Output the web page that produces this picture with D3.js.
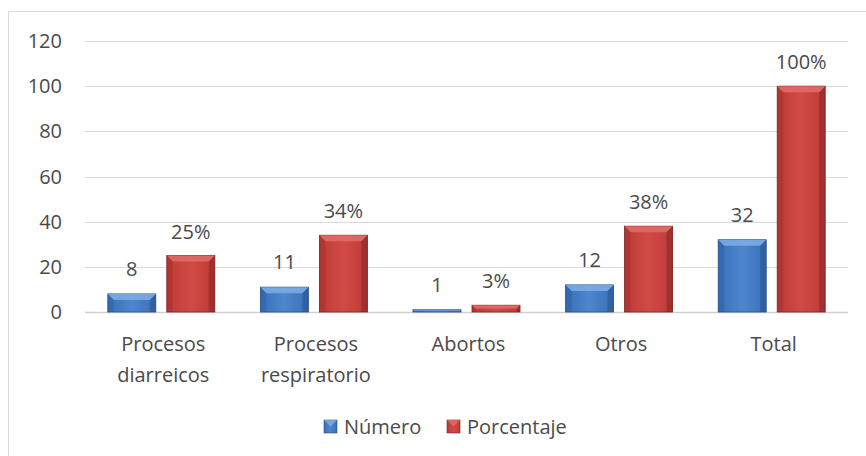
<!DOCTYPE html>
<html>
<head>
<meta charset="utf-8">
<script src="https://cdn.jsdelivr.net/npm/d3@7"></script>
<style>
  body { margin: 0; background: #fff; }
  svg text { font-family: "Open Sans", Lato, sans-serif; fill: #4a4a4a; }
</style>
</head>
<body>
<svg id="chart" width="866" height="456"></svg>
<script>
// data
var categories = [["Procesos", "diarreicos"], ["Procesos", "respiratorio"], ["Abortos"], ["Otros"], ["Total"]];
var numero = [8, 11, 1, 12, 32];
var porcentaje = [25, 34, 3, 38, 100];
var pct_labels = ["25%", "34%", "3%", "38%", "100%"];
var y_ticks = [0, 20, 40, 60, 80, 100, 120];
var series_names = ["Número", "Porcentaje"];

var svg = d3.select("#chart");
var fontSize = 20;
var colors = {
    blue: {mid: "#3a6fb6", light: "#4d86cf", dark: "#23518c", top: "#7eaee6"},
    red: {mid: "#bd3a37", light: "#d24a46", dark: "#7e2321", top: "#e46c68"}
};

// frame
svg.append("rect")
    .attr("x", 8.5).attr("y", 11.5)
    .attr("width", 870).attr("height", 460)
    .attr("fill", "none").attr("stroke", "#d9d9d9");

var plot = {left: 85, right: 848, top: 41, bottom: 312};

var x = d3.scaleBand()
    .domain(d3.range(categories.length))
    .range([plot.left, plot.right]);

var y = d3.scaleLinear()
    .domain([0, 120])
    .range([plot.bottom, plot.top]);

// gridlines
svg.append("g").selectAll("line")
    .data(y_ticks)
    .join("line")
    .attr("x1", plot.left).attr("x2", plot.right)
    .attr("y1", d => Math.round(y(d)) + 0.5)
    .attr("y2", d => Math.round(y(d)) + 0.5)
    .attr("stroke", d => d === 0 ? "#d0d0d0" : "#d9d9d9")
    .attr("stroke-width", d => d === 0 ? 1.5 : 1);

// y labels
svg.append("g").selectAll("text")
    .data(y_ticks)
    .join("text")
    .attr("x", 62)
    .attr("y", d => y(d) + 7)
    .attr("text-anchor", "end")
    .attr("font-size", fontSize)
    .text(d => d);

// gradients
var defs = svg.append("defs");
function gradient(id, c) {
    var g = defs.append("linearGradient").attr("id", id)
        .attr("x1", 0).attr("x2", 1).attr("y1", 0).attr("y2", 0);
    g.append("stop").attr("offset", "0%").attr("stop-color", c.mid);
    g.append("stop").attr("offset", "50%").attr("stop-color", c.light);
    g.append("stop").attr("offset", "100%").attr("stop-color", c.mid);
}
gradient("gBlue", colors.blue);
gradient("gRed", colors.red);

var barW = 48, gap = 11;

function drawBars(values, offset, c, grad) {
    var g = svg.append("g");
    values.forEach(function (v, i) {
        var x0 = x(i) + x.bandwidth() / 2 + offset;
        var y0 = y(v), h = y(0) - y0;
        var b = Math.min(6, h / 2, barW / 2);
        g.append("rect")
            .attr("x", x0).attr("y", y0)
            .attr("width", barW).attr("height", h)
            .attr("fill", "url(#" + grad + ")")
            .attr("stroke", c.dark).attr("stroke-width", 0.8);
        // bevel top
        g.append("polygon")
            .attr("points", [[x0, y0], [x0 + barW, y0], [x0 + barW - b, y0 + b], [x0 + b, y0 + b]].join(" "))
            .attr("fill", c.top).attr("opacity", 0.85);
        // bevel sides
        g.append("polygon")
            .attr("points", [[x0 + barW, y0], [x0 + barW, y0 + h], [x0 + barW - b, y0 + h], [x0 + barW - b, y0 + b]].join(" "))
            .attr("fill", c.dark).attr("opacity", 0.5);
        g.append("polygon")
            .attr("points", [[x0, y0], [x0 + b, y0 + b], [x0 + b, y0 + h], [x0, y0 + h]].join(" "))
            .attr("fill", c.dark).attr("opacity", 0.25);
    });
}
drawBars(numero, -barW - gap / 2, colors.blue, "gBlue");
drawBars(porcentaje, gap / 2, colors.red, "gRed");

// data labels
svg.append("g").selectAll("text")
    .data(numero)
    .join("text")
    .attr("x", (d, i) => x(i) + x.bandwidth() / 2 - gap / 2 - barW / 2)
    .attr("y", d => y(d) - 18)
    .attr("text-anchor", "middle")
    .attr("font-size", fontSize)
    .text(d => d);

svg.append("g").selectAll("text")
    .data(porcentaje)
    .join("text")
    .attr("x", (d, i) => x(i) + x.bandwidth() / 2 + gap / 2 + barW / 2)
    .attr("y", d => y(d) - 17)
    .attr("text-anchor", "middle")
    .attr("font-size", fontSize)
    .text((d, i) => pct_labels[i]);

// category labels
var cat = svg.append("g").selectAll("text")
    .data(categories)
    .join("text")
    .attr("x", (d, i) => x(i) + x.bandwidth() / 2 + 2)
    .attr("y", 351)
    .attr("text-anchor", "middle")
    .attr("font-size", fontSize);
cat.selectAll("tspan")
    .data(d => d)
    .join("tspan")
    .attr("x", function () { return this.parentNode.getAttribute("x"); })
    .attr("dy", (d, i) => i === 0 ? 0 : 31)
    .text(d => d);

// legend
var legend = svg.append("g");
var legendItems = [
    {name: series_names[0], c: colors.blue, grad: "gBlue", x: 324},
    {name: series_names[1], c: colors.red, grad: "gRed", x: 447}
];
legendItems.forEach(function (it) {
    legend.append("rect")
        .attr("x", it.x).attr("y", 420)
        .attr("width", 13).attr("height", 13)
        .attr("fill", "url(#" + it.grad + ")")
        .attr("stroke", it.c.dark).attr("stroke-width", 0.6);
    legend.append("polygon")
        .attr("points", [[it.x, 420], [it.x + 13, 420], [it.x + 6.5, 426.5]].join(" "))
        .attr("fill", it.c.top).attr("opacity", 0.8);
    legend.append("text")
        .attr("x", it.x + 20).attr("y", 434)
        .attr("font-size", fontSize)
        .text(it.name);
});
</script>
</body>
</html>
